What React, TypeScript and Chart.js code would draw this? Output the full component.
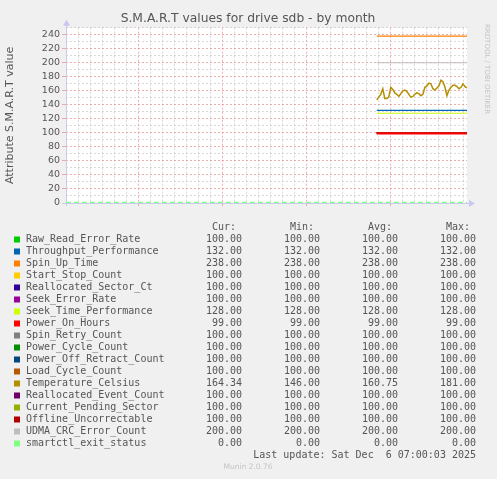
import React, { useEffect, useRef } from 'react';
import { Chart, registerables } from 'chart.js';

Chart.register(...registerables);

// attribute names, in munin's drawing order
const seriesNames = [
  'Raw_Read_Error_Rate',
  'Throughput_Performance',
  'Spin_Up_Time',
  'Start_Stop_Count',
  'Reallocated_Sector_Ct',
  'Seek_Error_Rate',
  'Seek_Time_Performance',
  'Power_On_Hours',
  'Spin_Retry_Count',
  'Power_Cycle_Count',
  'Power_Off_Retract_Count',
  'Load_Cycle_Count',
  'Temperature_Celsius',
  'Reallocated_Event_Count',
  'Current_Pending_Sector',
  'Offline_Uncorrectable',
  'UDMA_CRC_Error_Count',
  'smartctl_exit_status',
];

const seriesColors = [
  '#00CC00', '#0066B3', '#FF8000', '#FFCC00', '#330099', '#990099',
  '#CCFF00', '#FF0000', '#808080', '#008F00', '#00487D', '#B35A00',
  '#B38F00', '#6B006B', '#8FB300', '#B30000', '#BEBEBE', '#80FF80',
];

const curValues = [100, 132, 238, 100, 100, 100, 128, 99, 100, 100, 100, 100, 164.34, 100, 100, 100, 200, 0];
const minValues = [100, 132, 238, 100, 100, 100, 128, 99, 100, 100, 100, 100, 146, 100, 100, 100, 200, 0];
const avgValues = [100, 132, 238, 100, 100, 100, 128, 99, 100, 100, 100, 100, 160.75, 100, 100, 100, 200, 0];
const maxValues = [100, 132, 238, 100, 100, 100, 128, 99, 100, 100, 100, 100, 181, 100, 100, 100, 200, 0];

// flat attributes: one level each (null = has its own history)
const levelValues = [100, 132, 238, 100, 100, 100, 128, 99, 100, 100, 100, 100, null, 100, 100, 100, 200, 0];

// temperature history, one sample every 4 hours
const temperatureValues = [
  147, 151, 155, 163, 149, 149, 151, 165, 162, 157,
  155, 152, 156, 160, 161, 159, 155, 151, 152, 155,
  157, 156, 153, 155, 165, 167, 171, 170, 163, 161,
  164, 167, 175, 173, 165, 153, 161, 165, 168, 168,
  166, 163, 165, 170, 166, 164,
];

// time axis, in days from the left edge of the month graph
const periodDays = 33.33;
const historyStartDay = 25.83;
const sampleStepDays = 1 / 6;
const weekStartDays = [6, 13, 20, 27];
const weekLabels = ['Week 45', 'Week 46', 'Week 47', 'Week 48', 'Week 49'];
const weekLabelDays = [2.5, 9.5, 16.5, 23.5, 30.5];

const yTickLabels = ['0', '20', '40', '60', '80', '100', '120', '140', '160', '180', '200', '220', '240'];

const MAJOR = 'rgba(230, 130, 130, 0.65)';
const MINOR = 'rgba(195, 195, 195, 0.65)';
const AXIS = '#C8C8F0';
const SANS = '"DejaVu Sans", sans-serif';
const MONO = '"DejaVu Sans Mono", monospace';

const muninText = {
  id: 'muninText',
  beforeDraw(chart: Chart) {
    const { ctx, chartArea: a } = chart;
    ctx.save();
    ctx.fillStyle = '#F0F0F0';
    ctx.fillRect(0, 0, chart.width, chart.height);
    ctx.fillStyle = '#FFFFFF';
    ctx.fillRect(a.left, a.top, a.right - a.left, a.bottom - a.top);
    ctx.restore();
  },
  beforeDatasetsDraw(chart: Chart) {
    const { ctx, chartArea: a } = chart;
    ctx.save();
    ctx.strokeStyle = AXIS;
    ctx.fillStyle = AXIS;
    ctx.lineWidth = 1;
    ctx.beginPath();
    ctx.moveTo(a.left - 4, a.bottom + 0.5);
    ctx.lineTo(a.right + 3, a.bottom + 0.5);
    ctx.moveTo(a.left + 0.5, a.bottom + 3);
    ctx.lineTo(a.left + 0.5, a.top - 3);
    ctx.stroke();
    ctx.beginPath();
    ctx.moveTo(a.right + 8, a.bottom + 0.5);
    ctx.lineTo(a.right + 2, a.bottom - 3);
    ctx.lineTo(a.right + 2, a.bottom + 4);
    ctx.closePath();
    ctx.moveTo(a.left + 0.5, a.top - 8);
    ctx.lineTo(a.left - 3, a.top - 2);
    ctx.lineTo(a.left + 4, a.top - 2);
    ctx.closePath();
    ctx.fill();
    ctx.restore();
  },
  afterDraw(chart: Chart) {
    const { ctx } = chart;
    ctx.save();
    ctx.textBaseline = 'middle';

    ctx.fillStyle = '#555';
    ctx.font = `12.3px ${SANS}`;
    ctx.textAlign = 'center';
    ctx.fillText('S.M.A.R.T values for drive sdb - by month', 248, 19);

    // rrdtool watermark
    ctx.save();
    ctx.translate(487, 24);
    ctx.rotate(Math.PI / 2);
    ctx.textAlign = 'left';
    ctx.fillStyle = '#C4C4C4';
    ctx.font = `7px ${SANS}`;
    ctx.fillText('RRDTOOL / TOBI OETIKER', 0, 0);
    ctx.restore();

    // legend table
    ctx.font = `10px ${MONO}`;
    ctx.fillStyle = '#555';
    ctx.textAlign = 'right';
    const headers = ['Cur:', 'Min:', 'Avg:', 'Max:'];
    const colRight = [242, 320, 398, 476];
    headers.forEach((h, i) => ctx.fillText(h, colRight[i] - 6, 227));

    seriesNames.forEach((name, i) => {
      const y = 239.5 + i * 12;
      ctx.fillStyle = seriesColors[i];
      ctx.fillRect(14, y - 3, 6, 6);
      ctx.fillStyle = '#555';
      ctx.textAlign = 'left';
      ctx.fillText(name, 26, y);
      ctx.textAlign = 'right';
      [curValues, minValues, avgValues, maxValues].forEach((col, c) => {
        ctx.fillText(col[i].toFixed(2), colRight[c], y);
      });
    });

    ctx.textAlign = 'right';
    ctx.fillText('Last update: Sat Dec  6 07:00:03 2025', 476, 455.5);

    ctx.textAlign = 'center';
    ctx.fillStyle = '#C4C4C4';
    ctx.font = `7.5px ${SANS}`;
    ctx.fillText('Munin 2.0.76', 248, 467.5);
    ctx.restore();
  },
};

const App: React.FC = () => {
  const canvasRef = useRef<HTMLCanvasElement>(null);

  useEffect(() => {
    document.body.style.margin = '0';
    if (!canvasRef.current) return;

    const datasets = seriesNames.map((name, i) => {
      const level = levelValues[i];
      let data: { x: number; y: number }[];
      if (level === null) {
        data = temperatureValues.map((v, k) => ({ x: historyStartDay + k * sampleStepDays, y: v }));
      } else if (name === 'smartctl_exit_status') {
        data = [{ x: 0, y: level }, { x: periodDays, y: level }];
      } else {
        data = [{ x: historyStartDay, y: level }, { x: periodDays, y: level }];
      }
      const isExit = name === 'smartctl_exit_status';
      const isHours = name === 'Power_On_Hours';
      return {
        label: name,
        data,
        borderColor: seriesColors[i],
        backgroundColor: seriesColors[i],
        borderWidth: isExit ? 2.5 : isHours ? 2 : level === null ? 1.5 : 1.2,
        borderDash: isExit ? [5, 3] : [],
        pointRadius: 0,
        tension: 0,
        // later series on top, the red 99 line reads over the 100 stack
        order: isHours ? -100 : -i,
      };
    });

    const chart = new Chart(canvasRef.current, {
      type: 'line',
      data: { datasets },
      plugins: [muninText],
      options: {
        animation: false,
        responsive: false,
        devicePixelRatio: 1,
        layout: { padding: { left: 0, top: 27.7, right: 30, bottom: 276 } },
        plugins: {
          legend: { display: false },
          tooltip: { enabled: false },
        },
        scales: {
          x: {
            type: 'linear',
            min: 0,
            max: periodDays,
            afterFit: (scale: any) => {
              scale.height = 0;
            },
            afterBuildTicks: (scale: any) => {
              const values: number[] = [];
              for (let d = 0; d <= Math.floor(periodDays); d++) values.push(d);
              values.push(...weekLabelDays);
              values.sort((a, b) => a - b);
              scale.ticks = values.map((value) => ({ value }));
            },
            border: { display: false, dash: [2, 2] },
            grid: {
              color: (c: any) => {
                const v = c.tick ? c.tick.value : 0;
                if (!Number.isInteger(v) || v === 0) return 'rgba(0,0,0,0)';
                return weekStartDays.includes(v) ? MAJOR : MINOR;
              },
              tickColor: (c: any) => {
                const v = c.tick ? c.tick.value : 0;
                return weekStartDays.includes(v) ? MAJOR : 'rgba(0,0,0,0)';
              },
              tickLength: 3,
              drawTicks: true,
            },
            ticks: {
              autoSkip: false,
              maxRotation: 0,
              padding: 2,
              color: '#555',
              font: { family: SANS, size: 9.5 },
              callback: (value: any) => {
                const idx = weekLabelDays.indexOf(Number(value));
                return idx >= 0 ? weekLabels[idx] : '';
              },
            },
          },
          y: {
            min: 0,
            max: 250,
            afterFit: (scale: any) => {
              scale.width = 66;
            },
            border: { display: false, dash: [2, 2] },
            title: {
              display: true,
              text: 'Attribute S.M.A.R.T value',
              color: '#555',
              font: { family: SANS, size: 11 },
              padding: { top: 4, bottom: 0 },
            },
            grid: {
              color: (c: any) => {
                const v = c.tick ? c.tick.value : 0;
                if (v === 0) return 'rgba(0,0,0,0)';
                return v % 20 === 0 ? MAJOR : MINOR;
              },
              tickColor: (c: any) => {
                const v = c.tick ? c.tick.value : 0;
                return v % 20 === 0 ? MAJOR : 'rgba(0,0,0,0)';
              },
              tickLength: 4,
              drawTicks: true,
            },
            ticks: {
              stepSize: 10,
              autoSkip: false,
              padding: 2,
              color: '#555',
              font: { family: SANS, size: 9.5 },
              callback: (value: any) => {
                const v = Number(value);
                return v % 20 === 0 && v / 20 < yTickLabels.length ? yTickLabels[v / 20] : '';
              },
            },
          },
        },
      },
    });

    return () => {
      chart.destroy();
    };
  }, []);

  return (
    <div style={{ width: 497, height: 479 }}>
      <canvas ref={canvasRef} width={497} height={479} style={{ display: 'block' }} />
    </div>
  );
};

export default App;
